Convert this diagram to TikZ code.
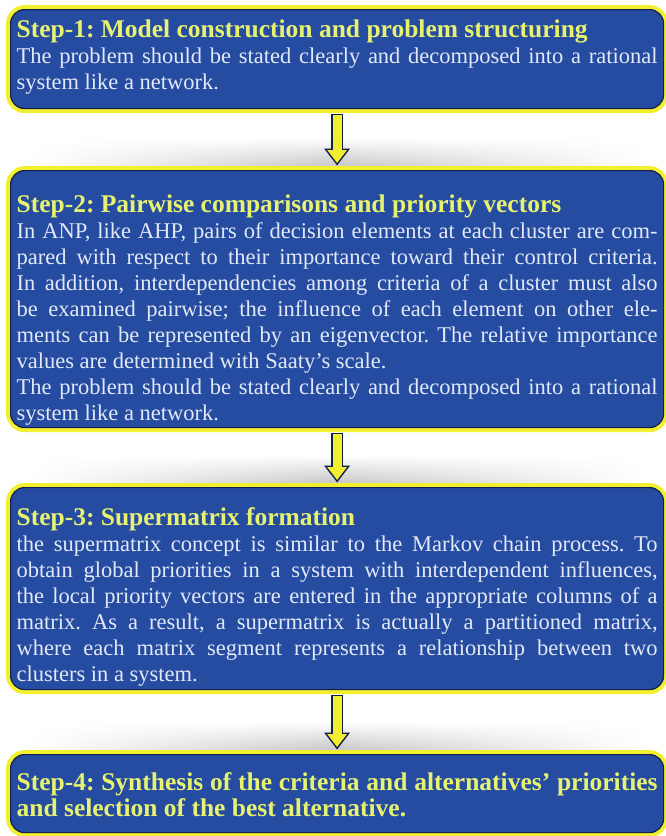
\documentclass[tikz,border=0pt]{standalone}
\usepackage{fontspec}
\setmainfont{Liberation Serif}
\usetikzlibrary{arrows.meta,positioning,backgrounds,fadings}

\definecolor{boxblue}{RGB}{38,76,162}
\definecolor{rimyellow}{RGB}{242,238,48}
\definecolor{titleyellow}{RGB}{230,242,112}
\definecolor{bodywhite}{RGB}{226,233,246}
\definecolor{edgenavy}{RGB}{18,32,78}

\tikzfading[name=fade sides, left color=transparent!100, right color=transparent!100, middle color=transparent!0]

\begin{document}
\frenchspacing
\begin{tikzpicture}[x=1pt, y=-1pt,
  stepbox/.style={anchor=north west, fill=boxblue, draw=edgenavy, line width=1.2pt,
    preaction={draw=rimyellow, line width=9pt}, rounded corners=14pt,
    inner xsep=6pt, inner ysep=0pt, text width=641pt, align=justify,
    text=bodywhite, font=\fontsize{22.5}{26}\selectfont},
  arrowrim/.style={edgenavy, line width=12pt, shorten <=4.5pt, shorten >=4.5pt,
    -{Triangle[width=25pt,length=17pt]}},
  arrowcore/.style={rimyellow, line width=9pt, shorten <=6pt, shorten >=7pt,
    -{Triangle[width=19pt,length=13pt]}}]
\def\steptitle#1{{\fontsize{25.5}{26}\selectfont\bfseries\color{titleyellow}#1}}
\useasboundingbox (0,0) rectangle (665,836);

% the four steps
\node[stepbox, text height=28pt, text depth=71pt] (s1) at (10,9)
  {\steptitle{Step-1: Model construction and problem structuring}\\
   The problem should be stated clearly and decomposed into a rational\linebreak
   system like a network.};
\node[stepbox, text height=42pt, text depth=215pt] (s2) at (10,170)
  {\steptitle{Step-2: Pairwise comparisons and priority vectors}\\
   In ANP, like AHP, pairs of decision elements at each cluster are com-\linebreak
   pared with respect to their importance toward their control criteria.\linebreak
   In addition, interdependencies among criteria of a cluster must also\linebreak
   be examined pairwise; the influence of each element on other ele-\linebreak
   ments can be represented by an eigenvector. The relative importance\linebreak
   values are determined with Saaty’s scale.\\
   The problem should be stated clearly and decomposed into a rational\linebreak
   system like a network.};
\node[stepbox, text height=38pt, text depth=164pt] (s3) at (10,487)
  {\steptitle{Step-3: Supermatrix formation}\\
   the supermatrix concept is similar to the Markov chain process. To\linebreak
   obtain global priorities in a system with interdependent influences,\linebreak
   the local priority vectors are entered in the appropriate columns of a\linebreak
   matrix. As a result, a supermatrix is actually a partitioned matrix,\linebreak
   where each matrix segment represents a relationship between two\linebreak
   clusters in a system.};
\node[stepbox, text height=36pt, text depth=42pt, text=titleyellow,
      font=\fontsize{25.5}{26}\selectfont\bfseries] (s4) at (10,754)
  {Step-4: Synthesis of the criteria and alternatives’ priorities\linebreak
   and selection of the best alternative.};

% soft shadows above the lower boxes
\begin{scope}[on background layer]
\foreach \s in {s2,s3,s4}
  \shade[top color=white, bottom color=black!25, path fading=fade sides]
    ([xshift=20pt,yshift=32pt]\s.north west) rectangle ([xshift=-20pt]\s.north east);
\end{scope}

% block arrows
\foreach \a/\b in {s1/s2,s2/s3,s3/s4}{
  \draw[arrowrim] (\a.south) -- (\b.north);
  \draw[arrowcore] (\a.south) -- (\b.north);
}
\end{tikzpicture}
\end{document}
